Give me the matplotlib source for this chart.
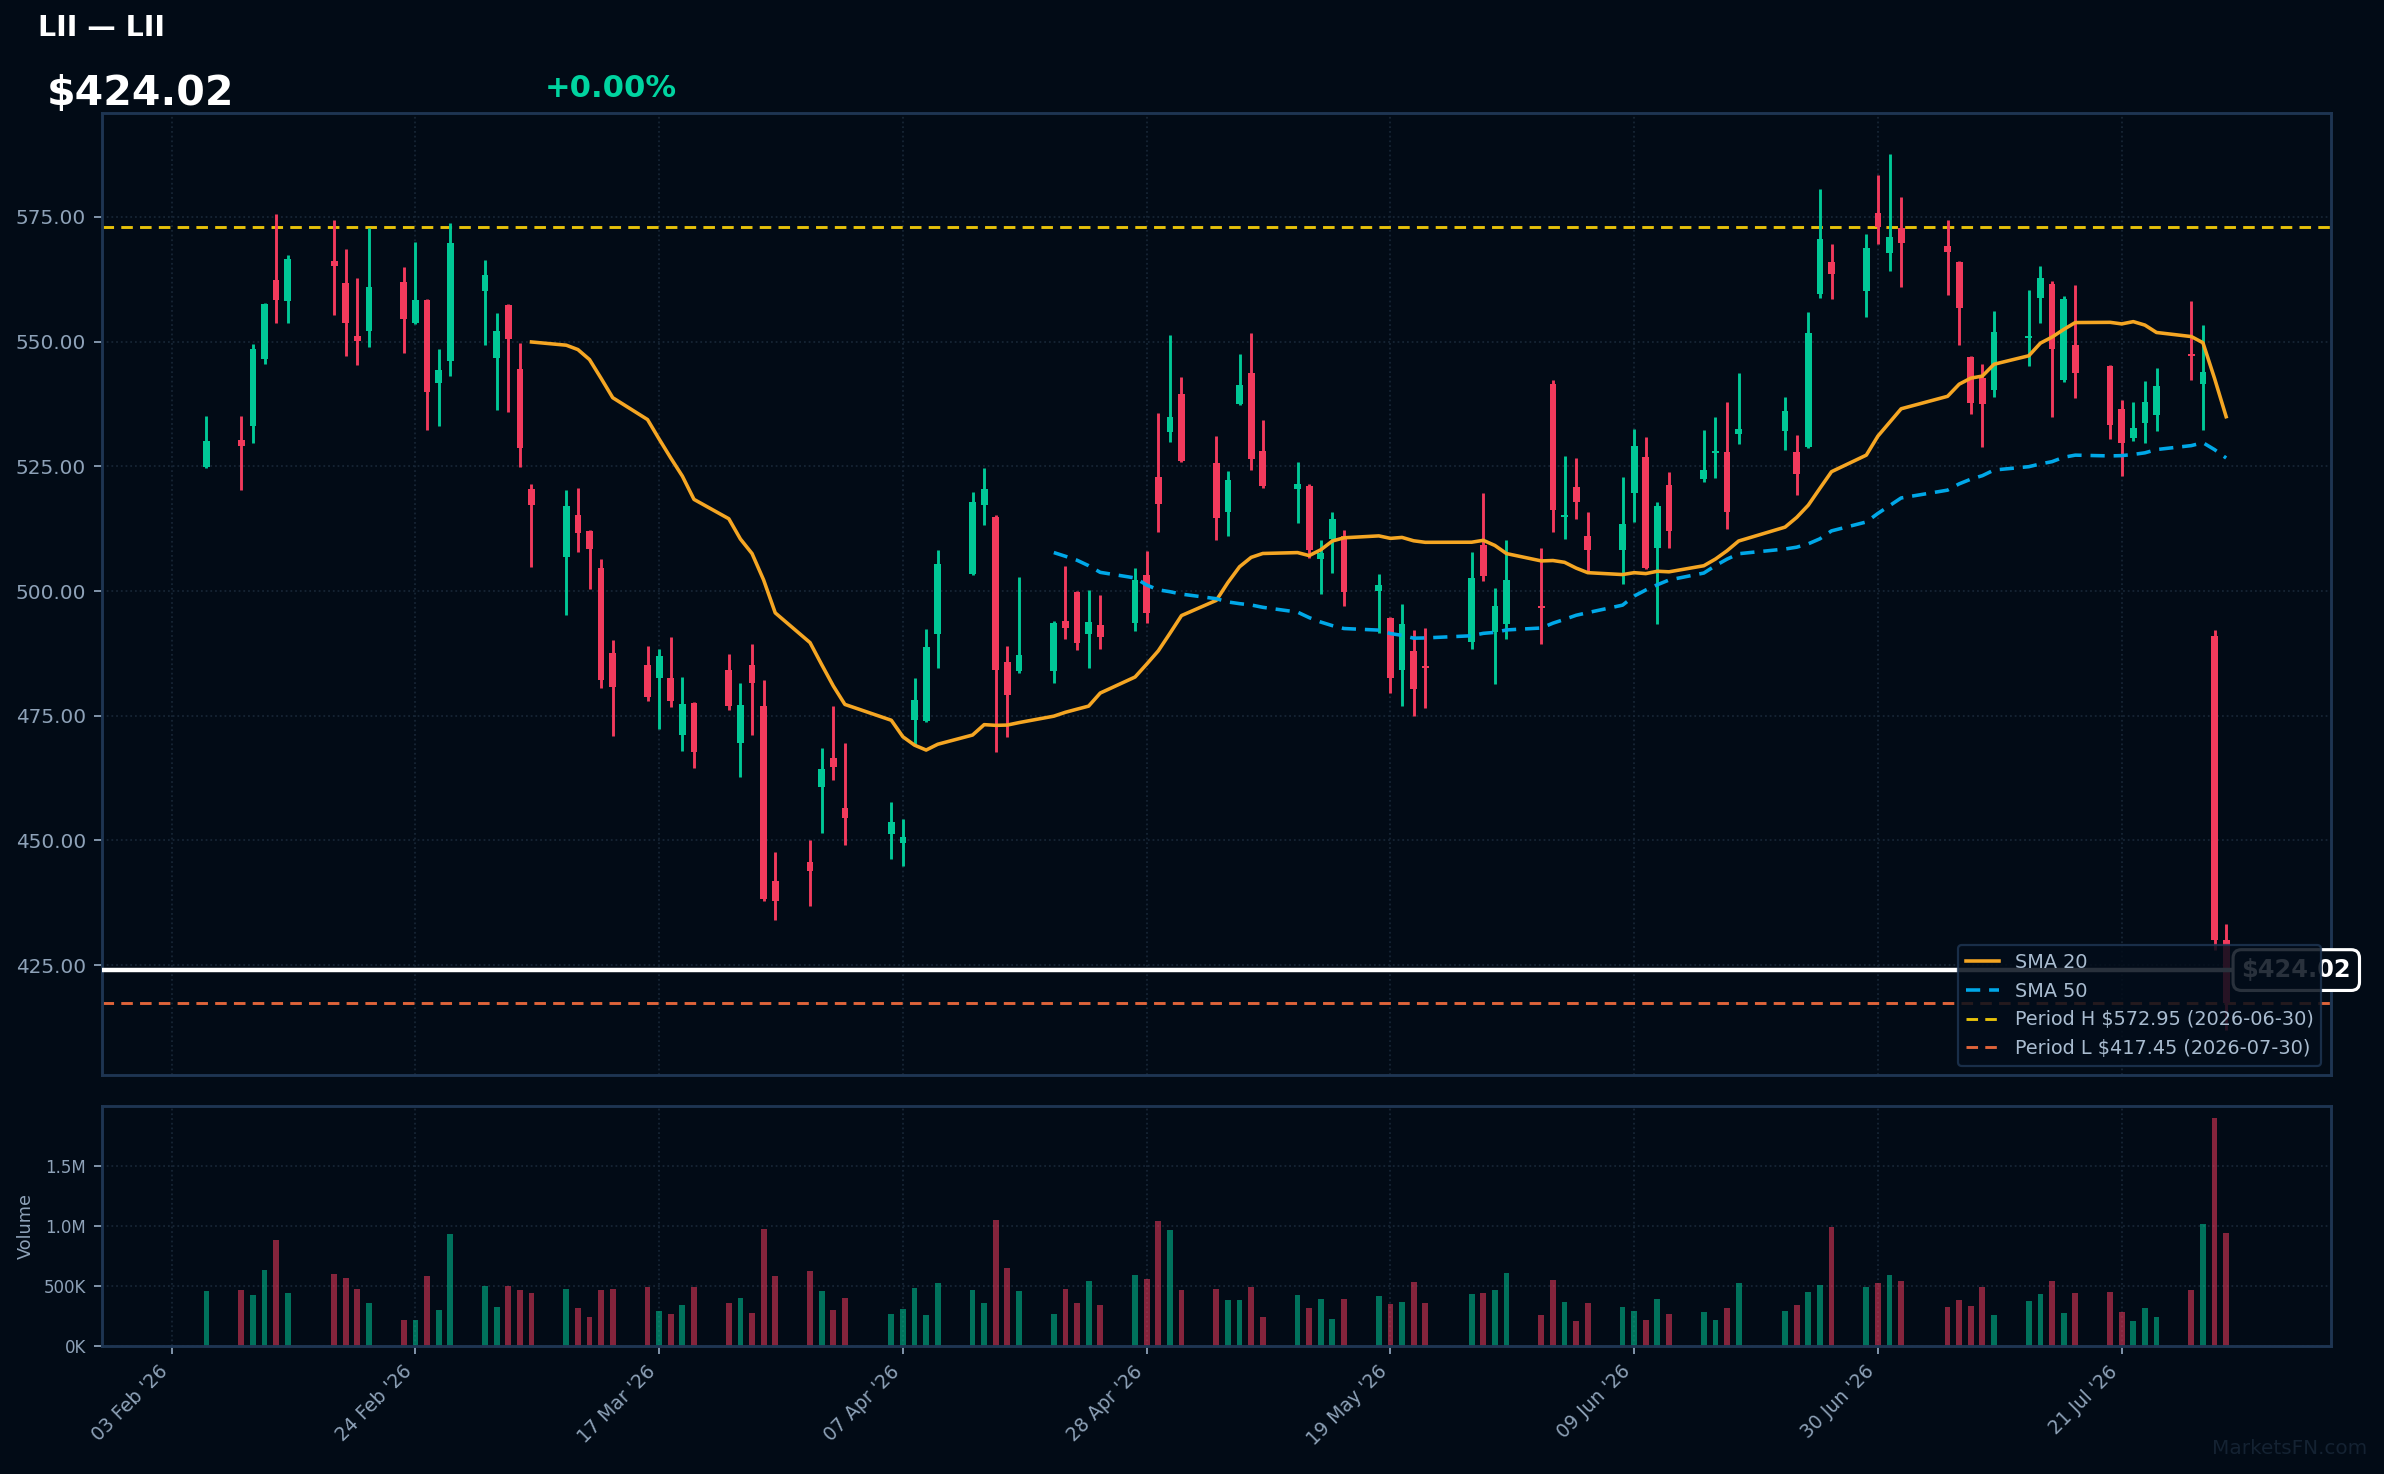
import pandas as pd
import numpy as np
import matplotlib
matplotlib.use("Agg")
from matplotlib import pyplot as plt
import matplotlib.dates as mdates
from matplotlib.ticker import FuncFormatter, FixedLocator

# trading days Feb 6 - Jul 30 2026 (NYSE holidays removed)
holidays = ["2026-02-16", "2026-04-03", "2026-05-25", "2026-06-19", "2026-07-03"]
dates = pd.bdate_range("2026-02-06", "2026-07-30").drop(pd.to_datetime(holidays))

opens = [524.9, 530.2, 533.0, 546.6, 562.3, 558.2, 566.2, 561.8, 551.1, 552.2, 561.9, 553.8, 558.3, 541.8, 546.1,  # Feb
         560.2, 546.8, 557.3, 544.5, 520.4, 506.8, 515.2, 512.0, 504.6, 487.5, 485.1, 482.6, 482.5, 471.2, 477.5,
         484.1, 469.6, 485.1, 476.9, 441.8, 445.6, 460.8,  # Mar
         466.5, 456.6, 451.2, 449.4, 474.2, 474.0, 491.3, 503.4, 517.2, 514.9, 485.7, 484.0, 484.0, 493.9, 499.8,
         491.3, 493.2, 493.5, 503.3, 522.8, 531.9,  # Apr
         539.5, 525.6, 515.9, 537.4, 543.8, 528.0, 520.4, 521.0, 506.4, 510.5, 511.1, 500.1, 494.5, 484.2, 487.9,
         484.9, 489.8, 509.3, 491.8, 493.4,  # May
         496.9, 541.4, 514.8, 520.8, 511.0, 508.2, 519.7, 526.8, 508.7, 521.2, 522.4, 527.7, 527.8, 531.5, 532.1,
         527.8, 528.8, 559.6, 565.9, 560.2, 575.7,  # Jun
         567.8, 572.7, 569.1, 565.9, 546.9, 542.8, 540.3, 550.8, 558.8, 561.5, 542.3, 549.4, 545.2, 536.4, 530.6,
         533.7, 535.3, 547.4, 541.5, 490.9, 430.0]  # Jul
highs = [535.1, 535.1, 549.5, 557.7, 575.6, 567.3, 574.3, 568.6, 562.7, 572.7, 564.9, 570.0, 558.5, 548.5, 573.7,
         566.3, 555.7, 557.5, 549.7, 521.4, 520.2, 520.6, 512.2, 506.4, 490.1, 488.9, 488.3, 490.7, 482.7, 477.8,
         487.3, 481.5, 489.3, 482.1, 447.6, 450.0, 468.6,
         476.9, 469.5, 457.7, 454.4, 482.5, 492.3, 508.3, 519.8, 524.6, 515.2, 488.9, 502.8, 494.0, 505.0, 500.0,
         500.2, 499.3, 504.6, 508.1, 535.6, 551.3,
         543.0, 531.0, 524.0, 547.5, 551.7, 534.2, 525.8, 521.4, 510.2, 515.8, 512.2, 503.5, 494.7, 497.3, 492.1,
         492.5, 507.9, 519.6, 500.6, 510.2,
         508.6, 542.3, 527.0, 526.6, 515.8, 522.8, 532.4, 530.9, 517.8, 523.8, 532.2, 534.8, 537.9, 543.8, 538.8,
         531.2, 555.9, 580.5, 569.5, 571.5, 583.4,
         587.6, 578.9, 574.3, 566.1, 547.1, 545.6, 556.1, 560.3, 565.1, 562.1, 559.1, 561.3, 545.4, 538.2, 537.8,
         542.1, 544.8, 558.2, 553.4, 492.1, 433.2]
lows = [524.6, 520.2, 529.7, 545.5, 553.8, 553.8, 555.4, 547.2, 545.3, 549.0, 547.7, 553.6, 532.3, 533.0, 543.1,
        549.4, 536.3, 535.8, 524.9, 504.9, 495.2, 507.9, 500.5, 480.6, 470.9, 478.0, 472.3, 476.7, 467.9, 464.5,
        476.2, 462.8, 471.2, 437.9, 434.1, 436.9, 451.4,
        462.2, 449.0, 446.3, 444.9, 469.4, 473.8, 484.5, 503.2, 513.2, 467.7, 470.7, 483.5, 481.6, 490.4, 488.2,
        484.6, 488.4, 492.0, 493.5, 511.9, 529.9,
        525.8, 510.2, 511.1, 537.2, 524.3, 520.7, 513.6, 506.7, 499.5, 503.7, 496.9, 491.6, 479.5, 477.0, 475.0,
        476.5, 488.4, 502.0, 481.3, 490.4,
        489.4, 511.9, 510.4, 514.5, 503.9, 501.5, 513.9, 504.4, 493.4, 508.7, 521.8, 522.6, 512.5, 529.5, 528.2,
        519.3, 528.6, 558.8, 558.6, 555.0, 569.5,
        564.1, 560.9, 559.4, 549.3, 535.5, 528.8, 538.9, 545.1, 553.7, 534.9, 541.9, 538.7, 530.5, 523.0, 530.1,
        529.7, 532.1, 542.3, 532.3, 428.0, 412.0]
closes = [530.0, 529.1, 548.5, 557.5, 558.4, 566.5, 565.2, 553.8, 550.1, 560.9, 554.6, 558.3, 539.8, 544.3, 569.7,
          563.3, 552.2, 550.5, 528.6, 517.2, 517.0, 511.6, 508.4, 482.2, 480.8, 478.8, 487.0, 478.0, 477.3, 467.8,
          476.9, 477.1, 481.6, 438.3, 437.9, 443.9, 464.3,
          464.8, 454.5, 453.7, 450.7, 478.1, 488.8, 505.4, 517.8, 520.4, 484.2, 479.2, 487.1, 493.6, 492.5, 489.6,
          493.8, 490.7, 502.2, 495.5, 517.5, 534.8,
          526.0, 514.7, 522.2, 541.2, 526.5, 521.0, 521.4, 508.3, 507.6, 514.4, 499.9, 501.3, 482.5, 493.4, 480.3,
          484.6, 502.6, 503.1, 496.9, 502.2,
          496.6, 516.3, 515.1, 517.9, 508.2, 513.4, 529.0, 504.6, 517.0, 512.1, 524.3, 528.0, 515.9, 532.4, 536.0,
          523.5, 551.7, 570.6, 563.6, 568.7, 572.95,
          571.0, 569.8, 567.9, 556.8, 537.6, 537.4, 551.9, 551.1, 562.7, 548.5, 558.5, 543.7, 533.3, 529.7, 532.6,
          537.8, 541.0, 547.2, 544.0, 430.0, 417.45]
volume_k = [461, 470, 428, 635, 884, 445, 602, 569, 478, 362, 221, 221, 586, 304, 934,
            500, 329, 500, 470, 445, 478, 320, 246, 470, 478, 494, 296, 271, 345, 494, 362, 403, 279, 975, 586, 627, 461,
            304, 403, 271, 312, 486, 262, 528, 470, 362, 1050, 652, 461, 271, 478, 362, 544, 345, 594, 561, 1041, 967,
            470, 478, 387, 387, 494, 246, 428, 320, 395, 229, 395, 420, 354, 370, 536, 362, 436, 445, 470, 610,
            262, 552, 370, 213, 362, 329, 296, 221, 395, 271, 287, 221, 320, 528, 296, 345, 453, 511, 992, 494, 528,
            594, 544, 329, 387, 337, 494, 262, 378, 436, 544, 279, 445, 453, 287, 213, 320, 246, 470, 1016, 1895, 942]

last_price = 424.02
period_high = 572.95
period_low = 417.45
tick_dates = pd.date_range("2026-02-03", periods=9, freq="21D")

BG = "#020b16"
GREEN = "#00c896"
RED = "#f23a5c"
GRID = "#172535"
SPINE = "#1e3552"
TXT = "#8ea2b8"

df = pd.DataFrame({"o": opens, "h": highs, "l": lows, "c": closes, "v": np.array(volume_k) * 1000}, index=dates)
sma20 = df["c"].rolling(20).mean()
sma50 = df["c"].rolling(50).mean()

fig = plt.figure(figsize=(14.9, 9.2125), dpi=160, facecolor=BG)
ax = fig.add_axes([0.0427, 0.2704, 0.935, 0.6532], facecolor=BG)
axv = fig.add_axes([0.0427, 0.0867, 0.935, 0.163], facecolor=BG, sharex=ax)

x = mdates.date2num(df.index)
up = df["c"] >= df["o"]
cols = np.where(up, GREEN, RED)

ax.vlines(x, df["l"], df["h"], colors=cols, linewidth=1.3, zorder=2)
body_lo = np.minimum(df["o"], df["c"])
body_h = np.maximum(np.abs(df["c"] - df["o"]), 0.35)
ax.bar(x, body_h, bottom=body_lo, width=0.58, color=cols, linewidth=0, zorder=3)

ax.plot(x, sma20, color="#f5a623", linewidth=1.6, label="SMA 20", zorder=4)
ax.plot(x, sma50, color="#00a8e8", linewidth=1.6, linestyle=(0, (4, 2.5)), label="SMA 50", zorder=4)
ax.axhline(period_high, color="#e8c20a", linewidth=1.3, linestyle=(0, (4, 2.5)),
           label=f"Period H ${period_high:.2f} (2026-06-30)", zorder=1)
ax.axhline(period_low, color="#e0643a", linewidth=1.3, linestyle=(0, (4, 2.5)),
           label=f"Period L ${period_low:.2f} (2026-07-30)", zorder=1)
ax.axhline(last_price, color="white", linewidth=2.0, zorder=3)

ax.annotate(f"${last_price:.2f}", xy=(0.9845, last_price), xycoords=("axes fraction", "data"),
            ha="center", va="center", color="white", fontsize=10.8, fontweight="bold",
            bbox=dict(boxstyle="round,pad=0.35", fc=BG, ec="white", lw=1.4),
            annotation_clip=False, zorder=4)

ax.set_ylim(402.9, 595.9)
ax.yaxis.set_major_locator(FixedLocator([425, 450, 475, 500, 525, 550, 575]))
ax.yaxis.set_major_formatter(FuncFormatter(lambda v, p: f"{v:.2f}"))
leg = ax.legend(loc="lower right", fontsize=8.7, frameon=True, facecolor="#030d1a",
                edgecolor=SPINE, framealpha=0.85, labelcolor="#a9bcd0", handlelength=1.7)
leg.set_zorder(6)

axv.bar(x, df["v"], width=0.5, color=cols, alpha=0.55, linewidth=0)
axv.set_ylim(0, 1995000)
axv.yaxis.set_major_locator(FixedLocator([0, 500000, 1000000, 1500000]))
axv.yaxis.set_major_formatter(FuncFormatter(
    lambda v, p: f"{v / 1e6:.1f}M" if v >= 1e6 else f"{v / 1e3:.0f}K"))
axv.set_ylabel("Volume", color=TXT, fontsize=8)

axv.xaxis.set_major_locator(FixedLocator(mdates.date2num(tick_dates)))
axv.xaxis.set_major_formatter(mdates.DateFormatter("%d %b '%y"))
plt.setp(axv.get_xticklabels(), rotation=45, ha="right")
ax.tick_params(axis="x", labelbottom=False, length=0)

for a in (ax, axv):
    a.grid(True, color=GRID, linestyle=":", linewidth=0.8)
    a.set_axisbelow(True)
    for s in a.spines.values():
        s.set_color(SPINE)
        s.set_linewidth(1.3)
    a.tick_params(colors=TXT, labelcolor=TXT)
ax.tick_params(axis="y", labelsize=9)
axv.tick_params(axis="y", labelsize=7.5)
axv.tick_params(axis="x", labelsize=8.5)

fig.text(0.016, 0.981, "LII — LII", color="white", fontsize=12.8, fontweight="bold", va="center")
fig.text(0.0195, 0.936, f"${last_price:.2f}", color="white", fontsize=18.5, fontweight="bold", va="center")
fig.text(0.2283, 0.940, "+0.00%", color="#00d4a0", fontsize=13.8, fontweight="bold", va="center")
fig.text(0.993, 0.017, "MarketsFN.com", color="#142232", fontsize=9, ha="right", va="center")

fig.savefig("out.png", dpi=160, facecolor=BG)
